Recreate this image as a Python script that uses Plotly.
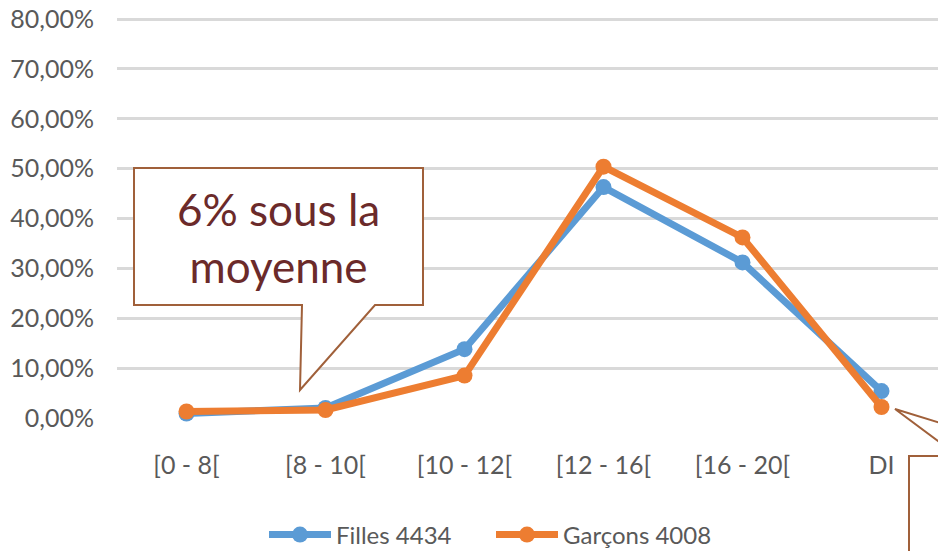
import plotly.graph_objects as go

categories = ["[0 - 8[", "[8 - 10[", "[10 - 12[", "[12 - 16[", "[16 - 20[", "DI"]
filles = [0.9, 2.0, 13.8, 46.3, 31.2, 5.4]
garcons = [1.3, 1.6, 8.5, 50.4, 36.2, 2.2]
series_names = ["Filles 4434", "Garçons 4008"]
y_tick_vals = [0, 10, 20, 30, 40, 50, 60, 70, 80]
y_tick_text = ["0,00%", "10,00%", "20,00%", "30,00%", "40,00%", "50,00%", "60,00%", "70,00%", "80,00%"]
callout_text = "6% sous la<br>moyenne"

OFF = 8  # page body margin
W, H = 938, 543
L, R, T, B = 109, 0, 9, 133
PW, PH = W - L - R, H - T - B

def px(x):
    return (x - OFF - L) / PW

def py(y):
    return (H - B - (y - OFF)) / PH

FONT = "Lato, 'Open Sans', sans-serif"

fig = go.Figure()
fig.add_trace(go.Scatter(x=categories, y=filles, name=series_names[0], mode="lines+markers",
                         line=dict(color="#5B9BD5", width=7), marker=dict(size=16, color="#5B9BD5"),
                         cliponaxis=False))
fig.add_trace(go.Scatter(x=categories, y=garcons, name=series_names[1], mode="lines+markers",
                         line=dict(color="#ED7D31", width=7), marker=dict(size=16, color="#ED7D31"),
                         cliponaxis=False))

brown = "#A0603A"
# Callout 1
path1 = (f"M {px(134)},{py(168)} L {px(423)},{py(168)} L {px(423)},{py(305)} "
         f"L {px(375)},{py(305)} L {px(300)},{py(390)} L {px(302)},{py(305)} "
         f"L {px(134)},{py(305)} Z")
fig.add_shape(type="path", path=path1, xref="paper", yref="paper",
              fillcolor="white", line=dict(color=brown, width=2), layer="above")
fig.add_annotation(x=px(278), y=py(237), xref="paper", yref="paper", text=callout_text,
                   showarrow=False, font=dict(family=FONT, size=44, color="#6B2A2A"),
                   align="center", xanchor="center", yanchor="middle")
# Callout 2 (partially visible)
path2 = (f"M {px(970)},{py(432)} L {px(895)},{py(409)} L {px(970)},{py(465)}")
fig.add_shape(type="path", path=path2, xref="paper", yref="paper",
              line=dict(color=brown, width=2), layer="above")
fig.add_shape(type="rect", x0=px(909), x1=px(980), y0=py(456), y1=py(560),
              xref="paper", yref="paper", fillcolor="white",
              line=dict(color=brown, width=2), layer="above")

fig.update_layout(
    width=W, height=H,
    margin=dict(l=L, r=R, t=T, b=B, autoexpand=False),
    paper_bgcolor="white", plot_bgcolor="white",
    font=dict(family=FONT, size=25, color="#595959"),
    showlegend=True,
    legend=dict(orientation="h", x=px(491), xanchor="center", y=py(535), yanchor="middle",
                font=dict(size=24, color="#595959"), itemwidth=62, entrywidth=150,
                tracegroupgap=0),
    xaxis=dict(type="category", range=[-0.5, 5.464], showgrid=False, zeroline=False,
               showline=False, ticks="", ticklabelstandoff=30, fixedrange=True),
    yaxis=dict(range=[0, 80.4], tickvals=y_tick_vals, ticktext=y_tick_text,
               showgrid=True, gridcolor="#D9D9D9", gridwidth=2.5, zeroline=False,
               showline=False, ticks="", ticklabelstandoff=22, fixedrange=True,
               ticklabeloverflow="allow"),
)

fig.write_html("out.html")
